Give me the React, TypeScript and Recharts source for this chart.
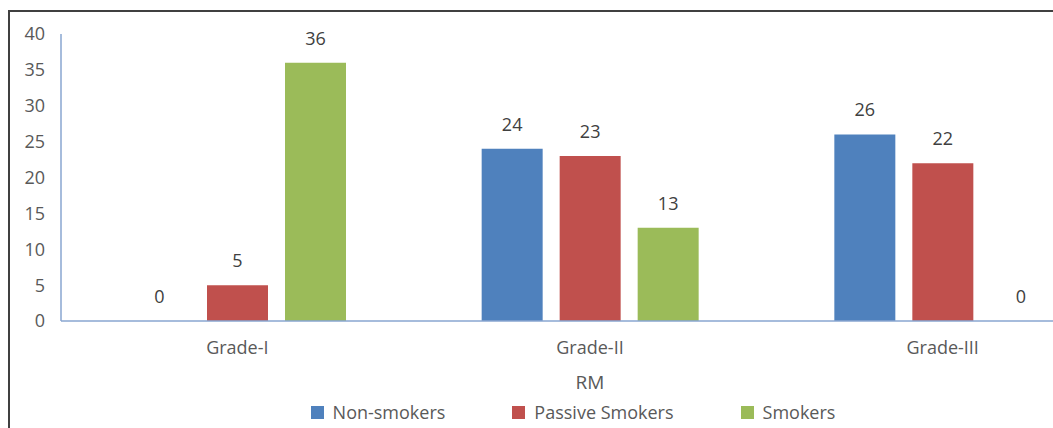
import { BarChart, Bar, XAxis, YAxis, Legend, LabelList } from "recharts";

const categories = ["Grade-I", "Grade-II", "Grade-III"];
const nonSmokers = [0, 24, 26];
const passiveSmokers = [5, 23, 22];
const smokers = [36, 13, 0];
const yTicks = [0, 5, 10, 15, 20, 25, 30, 35, 40];

const seriesList = [
  { key: "nonSmokers", name: "Non-smokers", color: "#4f81bd" },
  { key: "passiveSmokers", name: "Passive Smokers", color: "#c0504d" },
  { key: "smokers", name: "Smokers", color: "#9bbb59" },
];

const data = categories.map((grade, i) => ({
  grade,
  nonSmokers: nonSmokers[i],
  passiveSmokers: passiveSmokers[i],
  smokers: smokers[i],
}));

const FONT = "'Open Sans', sans-serif";

function LegendBox() {
  return (
    <div
      style={{
        height: 24,
        width: 1146,
        display: "flex",
        justifyContent: "center",
        alignItems: "center",
        gap: 67,
        fontFamily: FONT,
        fontSize: 18,
        color: "#595959",
      }}
    >
      {seriesList.map((s) => (
        <div key={s.key} style={{ display: "flex", alignItems: "center", gap: 9 }}>
          <span style={{ width: 13, height: 13, background: s.color, display: "inline-block" }} />
          <span>{s.name}</span>
        </div>
      ))}
    </div>
  );
}

// keep a hairline for zero values so their "0" labels still get drawn
const zeroMin = (value: number) => (value === 0 ? 0.01 : 0);

export default function App() {
  return (
    <div
      style={{
        position: "fixed",
        left: 0,
        top: 0,
        width: 1053,
        height: 428,
        overflow: "hidden",
        background: "#ffffff",
      }}
    >
      <div
        style={{
          position: "absolute",
          left: 8,
          top: 10,
          width: 1150,
          height: 460,
          border: "2px solid #404040",
        }}
      />
      <div style={{ position: "absolute", left: 0, top: 0 }}>
        <BarChart
          width={1140}
          height={428}
          data={data}
          margin={{ top: 34, right: 21, bottom: 4, left: 0 }}
          barSize={61}
          barGap={17}
        >
          <XAxis
            dataKey="grade"
            height={79}
            axisLine={{ stroke: "#89a6d0", strokeWidth: 1.5 }}
            tickLine={false}
            tickMargin={14}
            tick={{ fill: "#595959", fontSize: 18, fontFamily: FONT }}
            label={{
              value: "RM",
              position: "insideBottom",
              offset: 11,
              fill: "#595959",
              fontSize: 19,
              fontFamily: FONT,
            }}
          />
          <YAxis
            width={61}
            domain={[0, 40]}
            ticks={yTicks}
            interval={0}
            axisLine={{ stroke: "#89a6d0", strokeWidth: 1.5 }}
            tickLine={false}
            tickMargin={10}
            tick={{ fill: "#595959", fontSize: 18, fontFamily: FONT }}
          />
          <Legend
            verticalAlign="bottom"
            content={() => <LegendBox />}
            wrapperStyle={{ left: 0, width: 1146 }}
          />
          {seriesList.map((s) => (
            <Bar
              key={s.key}
              dataKey={s.key}
              name={s.name}
              fill={s.color}
              minPointSize={zeroMin}
              isAnimationActive={false}
            >
              <LabelList
                dataKey={s.key}
                position="top"
                offset={18}
                fill="#404040"
                fontSize={18}
                fontFamily={FONT}
              />
            </Bar>
          ))}
        </BarChart>
      </div>
    </div>
  );
}
